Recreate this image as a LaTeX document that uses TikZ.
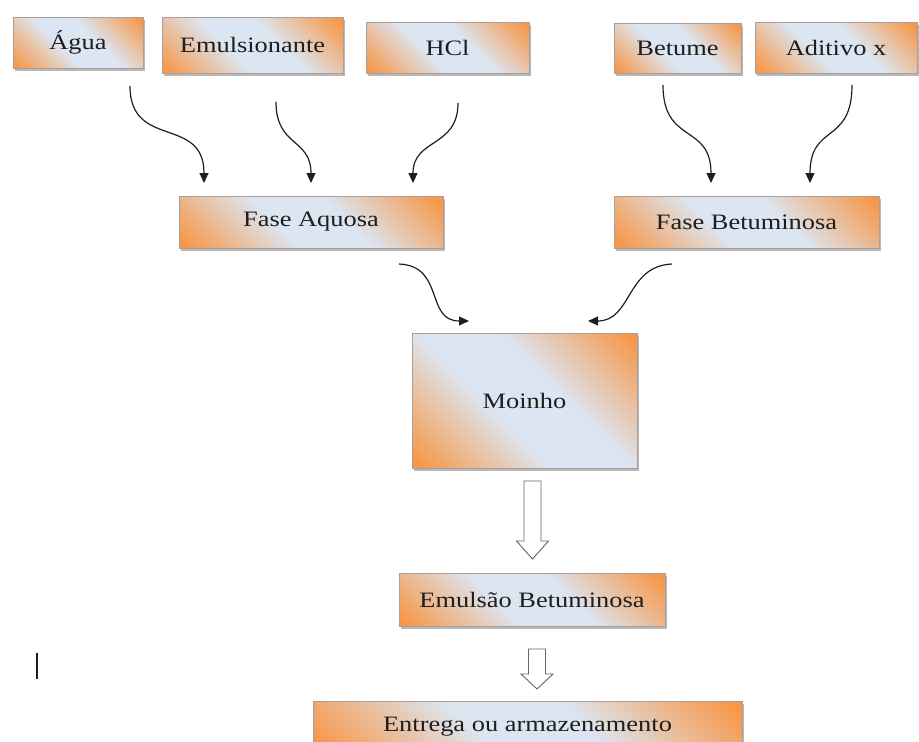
\documentclass[tikz,border=0pt]{standalone}
\usepackage{fontspec}
\setmainfont{Liberation Serif}[FakeStretch=1.2]
\usetikzlibrary{arrows.meta,shadows,calc}

\definecolor{boxorange}{RGB}{247,150,70}
\definecolor{boxblue}{RGB}{220,230,242}
\definecolor{boxline}{RGB}{170,160,155}
\definecolor{inkgray}{RGB}{30,30,30}

% orange in the corners, light blue over the middle
\pgfdeclareverticalshading{etapafade}{100bp}{color(0bp)=(boxorange); color(16bp)=(boxorange);
  color(42bp)=(boxblue); color(58bp)=(boxblue); color(84bp)=(boxorange); color(100bp)=(boxorange)}

\tikzset{
  etapa/.style={draw=boxline, line width=0.6pt, inner sep=0pt,
    shading=etapafade, shading angle=135,
    drop shadow={shadow xshift=2pt, shadow yshift=-2.5pt, fill=gray!70, opacity=0.8},
    font=\fontsize{22}{26}\selectfont, text=inkgray},
  fluxo/.style={draw=inkgray, line width=1.2pt, -{Triangle[width=9pt,length=10pt]}},
  oco/.style={draw=gray!80!black, line width=0.9pt, fill=white}
}

% hollow block arrow between two named coordinates
\newcommand{\setaoca}[3]{%
  \draw[oco] let \p1=(#1), \p2=(#2) in
    (\x1-8.5pt,\y1) -- (\x1-8.5pt,\y2+#3pt) -- (\x1-16pt,\y2+#3pt) -- (\x2,\y2)
    -- (\x1+16pt,\y2+#3pt) -- (\x1+8.5pt,\y2+#3pt) -- (\x1+8.5pt,\y1) -- cycle;}

\begin{document}
\begin{tikzpicture}[x=1pt,y=-1pt] % 1pt = 1 pixel of the sketch
    \useasboundingbox (0,0) rectangle (919,742);

    % Materias-primas
    \node[etapa, minimum width=130, minimum height=51] (agua) at (78,42.5) {Água};
    \node[etapa, minimum width=181, minimum height=56] (emuls) at (252.5,45) {Emulsionante};
    \node[etapa, minimum width=163, minimum height=51] (hcl) at (447.5,47.5) {HCl};
    \node[etapa, minimum width=127, minimum height=50] (betume) at (677.5,48) {Betume};
    \node[etapa, minimum width=162, minimum height=51] (aditivo) at (836,47.5) {Aditivo x};

    % Fases
    \node[etapa, minimum width=264, minimum height=52] (aquosa) at (311,222) {Fase Aquosa};
    \node[etapa, minimum width=265, minimum height=52] (betuminosa) at (746.5,222) {Fase Betuminosa};

    % Moinho e produto
    \node[etapa, minimum width=225, minimum height=135] (moinho) at (524.5,400.5) {Moinho};
    \node[etapa, minimum width=266, minimum height=53] (emulsao) at (532,599.5) {Emulsão Betuminosa};
    \node[etapa, minimum width=429, minimum height=52] (entrega) at (527.5,727) {Entrega ou armazenamento};

    % pontas das setas
    \coordinate (agua-s) at (130,86);      \coordinate (aq-1) at (204,183);
    \coordinate (emuls-s) at (276,102);    \coordinate (aq-2) at (311,183);
    \coordinate (hcl-s) at (458,103);      \coordinate (aq-3) at (413,183);
    \coordinate (betume-s) at (663,85);    \coordinate (bt-1) at (711,183);
    \coordinate (aditivo-s) at (852,85);   \coordinate (bt-2) at (810,183);
    \coordinate (aquosa-s) at (399,264);   \coordinate (mo-1) at (469,321);
    \coordinate (betum-s) at (672,264);    \coordinate (mo-2) at (588,321);
    \coordinate (moinho-s) at (532.5,481); \coordinate (em-1) at (532.5,559);
    \coordinate (emulsao-s) at (537,649);  \coordinate (en-1) at (537,689);

    % setas curvas
    \draw[fluxo] (agua-s) .. controls +(0,64) and +(0,-68) .. (aq-1);
    \draw[fluxo] (emuls-s) .. controls +(0,45) and +(0,-45) .. (aq-2);
    \draw[fluxo] (hcl-s) .. controls +(0,45) and +(0,-45) .. (aq-3);
    \draw[fluxo] (betume-s) .. controls +(0,60) and +(0,-60) .. (bt-1);
    \draw[fluxo] (aditivo-s) .. controls +(0,60) and +(0,-60) .. (bt-2);
    \draw[fluxo] (aquosa-s) .. controls +(46,2) and +(-44,0) .. (mo-1);
    \draw[fluxo] (betum-s) .. controls +(-46,2) and +(44,0) .. (mo-2);

    % setas ocas
    \setaoca{moinho-s}{em-1}{18}
    \setaoca{emulsao-s}{en-1}{15}

    % traço solto
    \draw[line width=2pt, inkgray] (37,653) -- (37,679);
\end{tikzpicture}
\end{document}
